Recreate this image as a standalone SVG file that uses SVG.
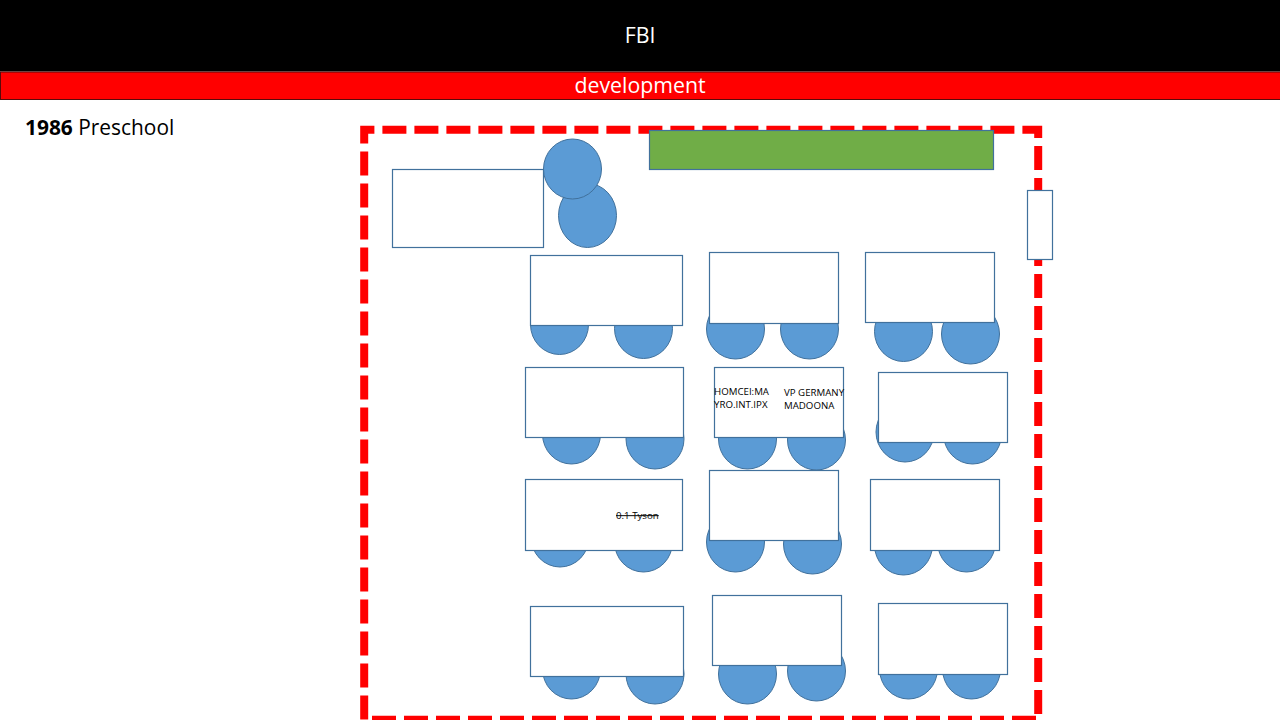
<svg xmlns="http://www.w3.org/2000/svg" width="1280" height="720" viewBox="0 0 1280 720">
<style>
text{font-family:"Open Sans","Noto Sans","Liberation Sans",sans-serif}
.seat{fill:#5b9bd5;stroke:#41719c;stroke-width:1}
.desk{fill:#fff;stroke:#41719c;stroke-width:1.2}
.small{font-size:9.7px;fill:#000}
.head{font-size:21.3px;fill:#fff;text-anchor:middle}
</style>
<rect width="1280" height="720" fill="#fff"/>
<g id="header">
<rect x="0" y="0" width="1280" height="71.5" fill="#000"/>
<text class="head" x="640" y="43">FBI</text>
</g>
<g id="subheader">
<rect x="0.5" y="72" width="1280" height="27.5" fill="#f00" stroke="#5a0a0a" stroke-width="1"/>
<text class="head" x="640" y="93">development</text>
</g>
<text x="25" y="135" font-size="20.9" fill="#000"><tspan font-weight="700">1986</tspan> Preschool</text>
<g id="room"><rect x="364.2" y="129.7" width="674" height="590" fill="none" stroke="#f00" stroke-width="8" stroke-dasharray="24 8" stroke-dashoffset="13.8"/></g>
<g id="board"><rect x="649.5" y="130.5" width="344" height="39" fill="#70ad47" stroke="#41719c" stroke-width="1.2"/></g>
<g id="door"><rect class="desk" x="1027.5" y="190.5" width="25" height="69"/></g>
<g id="teacher">
<rect class="desk" x="392.5" y="169.5" width="151" height="78"/>
<ellipse class="seat" cx="587.5" cy="215.5" rx="29" ry="32"/>
<ellipse class="seat" cx="572.5" cy="169" rx="29" ry="30"/>
</g>
<g id="desk-1-1">
<ellipse class="seat" cx="559.5" cy="324.5" rx="29" ry="30"/>
<ellipse class="seat" cx="643.5" cy="328.5" rx="29" ry="30"/>
<rect class="desk" x="530.5" y="255.5" width="152" height="70"/>
</g>
<g id="desk-1-2">
<ellipse class="seat" cx="735.5" cy="329" rx="29" ry="30"/>
<ellipse class="seat" cx="809.5" cy="329" rx="29" ry="30"/>
<rect class="desk" x="709.5" y="252.5" width="129" height="71"/>
</g>
<g id="desk-1-3">
<ellipse class="seat" cx="903.5" cy="331.5" rx="29" ry="30"/>
<ellipse class="seat" cx="970.5" cy="334" rx="29" ry="30"/>
<rect class="desk" x="865.5" y="252.5" width="129" height="70"/>
</g>
<g id="desk-2-1">
<ellipse class="seat" cx="571.5" cy="434" rx="29" ry="30"/>
<ellipse class="seat" cx="655" cy="439" rx="29" ry="30"/>
<rect class="desk" x="525.5" y="367.5" width="158" height="70"/>
</g>
<g id="desk-2-2">
<ellipse class="seat" cx="747.5" cy="439" rx="29" ry="30"/>
<ellipse class="seat" cx="816.5" cy="440" rx="29" ry="30"/>
<rect class="desk" x="714.5" y="367.5" width="129" height="70"/>
<text class="small" x="714" y="395">HOMCEI:MA</text>
<text class="small" x="714" y="408">YRO.INT.IPX</text>
<text class="small" x="784" y="396">VP GERMANY</text>
<text class="small" x="784" y="409">MADOONA</text>
</g>
<g id="desk-2-3">
<ellipse class="seat" cx="905" cy="432" rx="29" ry="30"/>
<ellipse class="seat" cx="972.5" cy="434" rx="29" ry="30"/>
<rect class="desk" x="878.5" y="372.5" width="129" height="70"/>
</g>
<g id="desk-3-1">
<ellipse class="seat" cx="560" cy="537" rx="29" ry="30"/>
<ellipse class="seat" cx="643.5" cy="542" rx="29" ry="30"/>
<rect class="desk" x="525.5" y="479.5" width="157" height="71"/>
<text class="small" x="616" y="519" text-decoration="line-through">0.1 Tyson</text>
</g>
<g id="desk-3-2">
<ellipse class="seat" cx="735.5" cy="542" rx="29" ry="30"/>
<ellipse class="seat" cx="812.5" cy="544" rx="29" ry="30"/>
<rect class="desk" x="709.5" y="470.5" width="129" height="70"/>
</g>
<g id="desk-3-3">
<ellipse class="seat" cx="903.5" cy="545" rx="29" ry="30"/>
<ellipse class="seat" cx="966.5" cy="542" rx="29" ry="30"/>
<rect class="desk" x="870.5" y="479.5" width="129" height="71"/>
</g>
<g id="desk-4-1">
<ellipse class="seat" cx="571.5" cy="669" rx="29" ry="30"/>
<ellipse class="seat" cx="655" cy="674" rx="29" ry="30"/>
<rect class="desk" x="530.5" y="606.5" width="153" height="70"/>
</g>
<g id="desk-4-2">
<ellipse class="seat" cx="747.5" cy="674" rx="29" ry="30"/>
<ellipse class="seat" cx="816.5" cy="671" rx="29" ry="30"/>
<rect class="desk" x="712.5" y="595.5" width="129" height="70"/>
</g>
<g id="desk-4-3">
<ellipse class="seat" cx="908.5" cy="669" rx="29" ry="30"/>
<ellipse class="seat" cx="971.5" cy="669" rx="29" ry="30"/>
<rect class="desk" x="878.5" y="603.5" width="129" height="71"/>
</g>
<g id="connectors"/>
</svg>
